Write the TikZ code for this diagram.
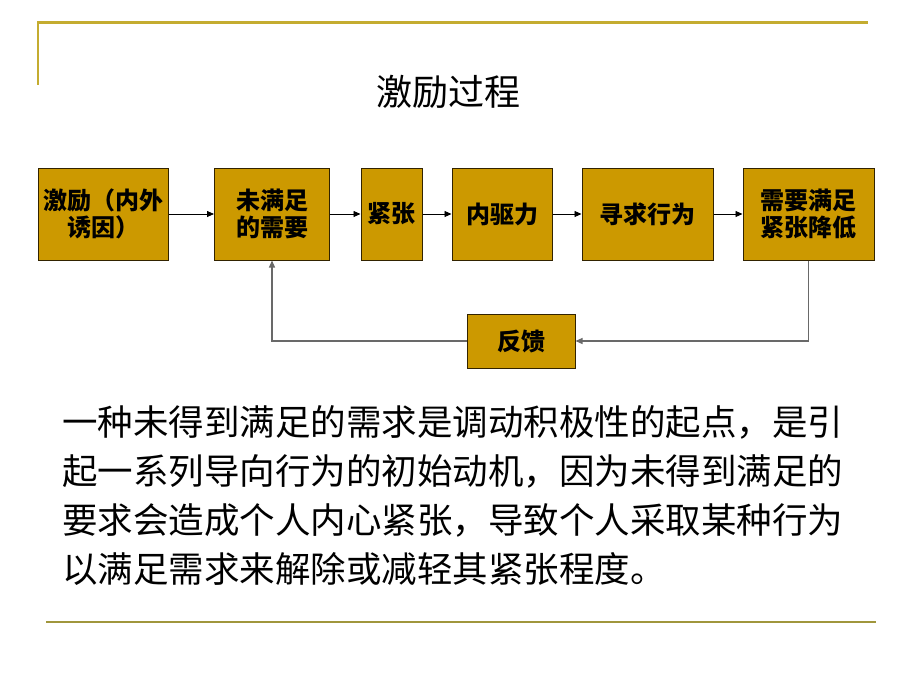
\documentclass[tikz,border=0pt]{standalone}
\usepackage{fontspec}
\newfontfamily\cjk{Noto Sans CJK SC}
\usetikzlibrary{arrows.meta,positioning}
\definecolor{boxgold}{RGB}{204,153,0}
\definecolor{boxedge}{RGB}{50,35,0}
\definecolor{rulegold}{RGB}{196,172,48}
\definecolor{ruleolive}{RGB}{160,150,60}
\definecolor{fbgray}{RGB}{105,105,105}

\begin{document}
\begin{tikzpicture}[x=1pt,y=-1pt,
                    stage/.style={rectangle,draw=boxedge,fill=boxgold,line width=1pt,minimum height=92pt,inner sep=1pt,align=center,font=\cjk\bfseries\fontsize{24}{27}\selectfont},
                    link/.style={-{Triangle[length=7pt,width=6pt]},line width=0.8pt},
                    back/.style={link,draw=fbgray,line width=1.2pt}
                ]
                \useasboundingbox (0,0) rectangle (920,690);
                % slide rules
                \draw[rulegold,line width=3pt] (37,23) -- (868,23);
                \draw[rulegold,line width=1.5pt] (38,23) -- (38,85);
                \draw[ruleolive,line width=2.5pt] (46,622) -- (876,622);

                \node[font=\cjk\fontsize{36}{40}\selectfont] (title) at (448,92) {激励过程};

                \foreach \nm/\cx/\bw/\txt in {stim/103/130/{激励（内外\\诱因）},
                                               unmet/272/115/{未满足\\的需要},
                                               tense/391.5/61/{紧张},
                                               drive/502/100/{内驱力},
                                               seek/647.5/131/{寻求行为},
                                               relief/808.5/131/{需要满足\\紧张降低}}
                    {
                    \node[stage,minimum width=\bw pt] (\nm) at (\cx,214) {\txt};
                }
                \foreach \a/\b in {stim/unmet,unmet/tense,tense/drive,drive/seek,seek/relief}
                    {
                    \draw[link] (\a) -- (\b);
                }

                \node[stage,minimum width=108pt,minimum height=54pt,font=\cjk\bfseries\fontsize{24}{28}\selectfont] (fb) at (521,341) {反馈};
                \draw[back] (relief.south) |- (fb.east);
                \draw[back] (fb.west) -| (unmet.south);

                \node[anchor=north west,align=left,inner sep=0pt,font=\cjk\fontsize{35.5}{49}\selectfont] (note) at (62,405)
                    {一种未得到满足的需求是调动积极性的起点，是引\\
                     起一系列导向行为的初始动机，因为未得到满足的\\
                     要求会造成个人内心紧张，导致个人采取某种行为\\
                     以满足需求来解除或减轻其紧张程度。};
\end{tikzpicture}
\end{document}
